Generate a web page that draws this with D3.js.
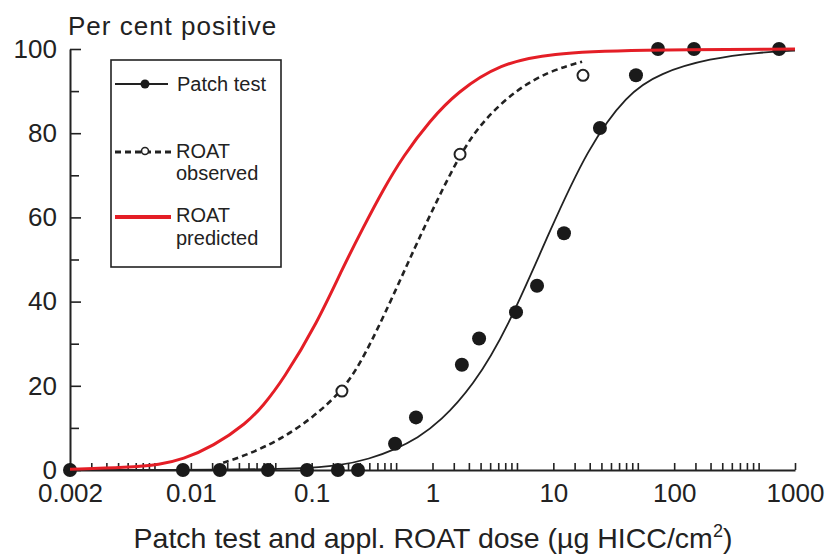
<!DOCTYPE html>
<html lang="en">
<head>
  <meta charset="UTF-8">
  <script src="https://cdn.jsdelivr.net/npm/d3@7"></script>
  <title>Patch test and ROAT dose response</title>
  <style>
    body { margin: 0; background: #fff; }
    svg { font-family: "Liberation Sans", Arial, Helvetica, sans-serif; }
    .axis path, .axis line { stroke: #222; }
    .axis path { stroke-width: 2; }
    .axis line { stroke-width: 1.6; }
    .axis text { font-size: 26px; fill: #222; font-family: "Liberation Sans", Arial, sans-serif; }
    .legend text { font-size: 20px; fill: #222; }
  </style>
</head>
<body>
<div id="chart"></div>

<script>
  // axis ticks
  var xTicks = [0.001, 0.01, 0.1, 1, 10, 100, 1000];
  var xTickLabels = ["0.002", "0.01", "0.1", "1", "10", "100", "1000"];
  var xMinorSteps = [1.5, 2, 2.5, 3, 3.5, 4, 4.5, 5];
  var yTicks = [0, 20, 40, 60, 80, 100];
  var yMinorTicks = [10, 30, 50, 70, 90];

  // patch test observations (filled dots)
  var patchDose = [0.001, 0.0086, 0.0174, 0.0435, 0.0915, 0.165, 0.242, 0.49, 0.73, 1.75, 2.43, 4.91, 7.33, 12.25, 24.3, 48.3, 73.5, 146, 738];
  var patchPct  = [0, 0, 0, 0, 0, 0, 0, 6.25, 12.5, 25, 31.25, 37.5, 43.75, 56.25, 81.25, 93.75, 100, 100, 100];

  // ROAT observations (open circles)
  var roatDose = [0.178, 1.69, 17.6];
  var roatPct  = [18.75, 75, 93.75];

  // fitted curves
  var patchFitDose = [0.001, 0.02, 0.08, 0.17, 0.3, 0.5, 0.75, 1.15, 2.16, 4.14, 9.4, 19.3, 40.6, 76, 198, 513, 1000];
  var patchFitPct  = [0, 0.05, 0.3, 1, 2.6, 5, 7.6, 11.4, 19.9, 33.3, 57, 76.5, 89.3, 94.3, 97.8, 99.2, 99.6];

  var roatObsFitDose = [0.0185, 0.0292, 0.055, 0.103, 0.178, 0.25, 0.389, 0.744, 1.09, 1.69, 2.61, 5.0, 9.4, 17.3];
  var roatObsFitPct  = [1.7, 3.6, 7.2, 12.5, 18.8, 25, 36, 54, 64, 75, 83, 90.5, 94.8, 97];

  var roatPredDose = [0.001, 0.003, 0.0056, 0.0085, 0.0153, 0.0292, 0.0395, 0.058, 0.111, 0.182, 0.266, 0.389, 0.57, 0.953, 1.6, 3.62, 9.4, 45.6, 1000];
  var roatPredPct  = [0.2, 0.6, 1.3, 2.5, 5.6, 11.2, 15.2, 21.4, 34.9, 48.2, 57.5, 66.5, 74.5, 83, 89.8, 96.5, 99, 99.8, 100];

  var width = 828, height = 554;
  var svg = d3.select("#chart").append("svg")
    .attr("width", width)
    .attr("height", height);

  var x = d3.scaleLog().domain([0.001, 1000]).range([70, 795]);
  var y = d3.scaleLinear().domain([0, 100]).range([470, 49]);

  var line = d3.line()
    .x(function(d) { return x(d[0]); })
    .y(function(d) { return y(d[1]); })
    .curve(d3.curveBasis);

  // minor ticks
  var xMinor = [];
  xTicks.slice(0, -1).forEach(function(t) {
    xMinorSteps.forEach(function(s) { xMinor.push(t * s); });
  });

  svg.append("g")
    .attr("class", "axis")
    .attr("transform", "translate(0,470)")
    .call(d3.axisBottom(x).tickValues(xMinor).tickFormat("").tickSize(-7).tickSizeOuter(0))
    .select(".domain").remove();

  svg.append("g")
    .attr("class", "axis")
    .attr("transform", "translate(70,0)")
    .call(d3.axisLeft(y).tickValues(yMinorTicks).tickFormat("").tickSize(-9).tickSizeOuter(0))
    .select(".domain").remove();

  // x axis
  svg.append("g")
    .attr("class", "axis")
    .attr("transform", "translate(0,470)")
    .call(d3.axisBottom(x)
      .tickValues(xTicks)
      .tickFormat(function(d, i) { return xTickLabels[i]; })
      .tickSize(-7)
      .tickSizeOuter(0)
      .tickPadding(14));

  // y axis
  svg.append("g")
    .attr("class", "axis")
    .attr("transform", "translate(70,0)")
    .call(d3.axisLeft(y)
      .tickValues(yTicks)
      .tickSize(-11)
      .tickSizeOuter(0)
      .tickPadding(13));

  svg.selectAll(".axis path.domain").attr("fill", "none");

  // curves
  svg.append("path")
    .datum(d3.zip(patchFitDose, patchFitPct))
    .attr("d", line)
    .attr("fill", "none")
    .attr("stroke", "#222")
    .attr("stroke-width", 1.8);

  svg.append("path")
    .datum(d3.zip(roatObsFitDose, roatObsFitPct))
    .attr("d", line)
    .attr("fill", "none")
    .attr("stroke", "#222")
    .attr("stroke-width", 2.6)
    .attr("stroke-dasharray", "6,4");

  // points
  svg.selectAll(".dot")
    .data(d3.zip(patchDose, patchPct))
    .enter()
    .append("circle")
    .attr("class", "dot")
    .attr("cx", function(d) { return x(d[0]); })
    .attr("cy", function(d) { return y(d[1]); })
    .attr("r", 7)
    .attr("fill", "#1a1a1a");

  svg.selectAll(".odot")
    .data(d3.zip(roatDose, roatPct))
    .enter()
    .append("circle")
    .attr("class", "odot")
    .attr("cx", function(d) { return x(d[0]); })
    .attr("cy", function(d) { return y(d[1]); })
    .attr("r", 5.5)
    .attr("fill", "#fff")
    .attr("stroke", "#222")
    .attr("stroke-width", 2);

  svg.append("path")
    .datum(d3.zip(roatPredDose, roatPredPct))
    .attr("d", line)
    .attr("fill", "none")
    .attr("stroke", "#e41e26")
    .attr("stroke-width", 3);

  // titles
  svg.append("text")
    .attr("x", 68)
    .attr("y", 35)
    .style("font-size", "26px")
    .style("letter-spacing", "1px")
    .style("fill", "#222")
    .text("Per cent positive");

  var xt = svg.append("text")
    .attr("x", 433)
    .attr("y", 548)
    .style("text-anchor", "middle")
    .style("font-size", "28.5px")
    .style("fill", "#222")
    .text("Patch test and appl. ROAT dose (\u00b5g HICC/cm");
  xt.append("tspan").attr("dy", -11).style("font-size", "18px").text("2");
  xt.append("tspan").attr("dy", 11).text(")");

  // legend
  var lg = svg.append("g").attr("class", "legend");
  lg.append("rect")
    .attr("x", 111).attr("y", 60)
    .attr("width", 170).attr("height", 207)
    .attr("fill", "#fff")
    .attr("stroke", "#222")
    .attr("stroke-width", 1.6);

  lg.append("line").attr("x1", 115).attr("x2", 168).attr("y1", 84).attr("y2", 84)
    .attr("stroke", "#222").attr("stroke-width", 1.8);
  lg.append("circle").attr("cx", 145).attr("cy", 84).attr("r", 4.5).attr("fill", "#1a1a1a");
  lg.append("text").attr("x", 177).attr("y", 91).text("Patch test");

  lg.append("line").attr("x1", 115).attr("x2", 172).attr("y1", 152).attr("y2", 152)
    .attr("stroke", "#222").attr("stroke-width", 3).attr("stroke-dasharray", "6,4");
  lg.append("circle").attr("cx", 145).attr("cy", 151).attr("r", 3.5)
    .attr("fill", "#fff").attr("stroke", "#222").attr("stroke-width", 1.6);
  lg.append("text").attr("x", 176).attr("y", 158).text("ROAT");
  lg.append("text").attr("x", 176).attr("y", 180).text("observed");

  lg.append("line").attr("x1", 115).attr("x2", 171).attr("y1", 217).attr("y2", 217)
    .attr("stroke", "#e41e26").attr("stroke-width", 4);
  lg.append("text").attr("x", 176).attr("y", 222).text("ROAT");
  lg.append("text").attr("x", 176).attr("y", 245).text("predicted");
</script>
</body>
</html>
